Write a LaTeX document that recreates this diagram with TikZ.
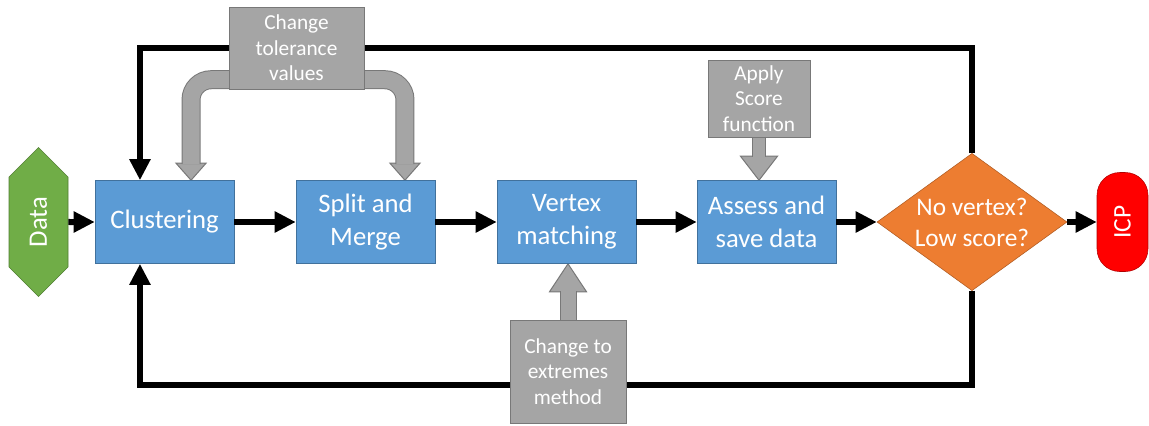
\documentclass[tikz,border=0pt]{standalone}
\usepackage{fontspec}
\setmainfont{Carlito}
\usetikzlibrary{shapes.geometric,shapes.symbols,arrows.meta,backgrounds}

\definecolor{procblue}{HTML}{5B9BD5}
\definecolor{procline}{HTML}{41719C}
\definecolor{datagreen}{HTML}{70AD47}
\definecolor{dataline}{HTML}{507E32}
\definecolor{decorange}{HTML}{ED7D31}
\definecolor{decline}{HTML}{AE5A21}
\definecolor{icpred}{HTML}{FF0000}
\definecolor{icpline}{HTML}{B00000}
\definecolor{remarkgray}{HTML}{A5A5A5}
\definecolor{remarkline}{HTML}{787878}

\tikzstyle{process}=[rectangle,draw=procline,fill=procblue,text=white,align=center,minimum width=104.25pt,minimum height=62.25pt,font=\fontsize{20}{24.75}\selectfont]
\tikzstyle{decision}=[diamond,draw=decline,fill=decorange,text=white,align=center,aspect=1.4,inner sep=0pt,minimum width=142.5pt,minimum height=103pt,font=\fontsize{19}{23.25}\selectfont]
\tikzstyle{terminal}=[rectangle,rounded corners=17pt,rotate=90,draw=icpline,fill=icpred,text=white,minimum width=74.25pt,minimum height=38.25pt,font=\fontsize{19}{22}\selectfont]
\tikzstyle{remark}=[rectangle,draw=remarkline,fill=remarkgray,text=white,align=center,inner sep=0pt,font=\fontsize{16}{19.25}\selectfont]
\tikzstyle{flowarrow}=[line width=4.5pt,-{Triangle[length=15.75pt,width=15pt]}]
\tikzstyle{shaft}=[draw=remarkline,line width=0.75pt,double=remarkgray]
\tikzstyle{ghead}=[draw=remarkline,fill=remarkgray,line width=0.75pt,line join=miter]

\begin{document}
\begin{tikzpicture}[x=0.75pt,y=-0.75pt]
    \useasboundingbox (0,0) rectangle (1149,425);

    \node[signal,signal to=east and west,rotate=90,draw=dataline,fill=datagreen,text=white,
        minimum width=111.75pt,minimum height=44.25pt,font=\fontsize{20}{24}\selectfont] (data) at (38.5,222) {Data};
    \foreach \name/\x/\txt in {clust/164.5/Clustering, split/365.5/{Split and\\Merge},
        match/566.5/{Vertex\\matching}, assess/766.5/{Assess and\\save data}} {
        \node[process] (\name) at (\x,222) {\txt};
    }
    \node[decision] (dec) at (972,222) {No vertex?\\Low score?};
    \node[terminal] (icp) at (1122.5,222) {ICP};

    \node[remark,minimum width=101.25pt,minimum height=61.5pt] (tol) at (296.5,48) {Change\\tolerance\\values};
    \node[remark,minimum width=76.5pt,minimum height=57.75pt] (score) at (759,98.5) {Apply\\Score\\function};
    \node[remark,minimum width=87pt,minimum height=77.25pt] (ext) at (568,371.5) {Change to\\extremes\\method};

    \foreach \a/\b in {data/clust,clust/split,split/match,match/assess,assess/dec,dec/icp} {
        \draw[flowarrow] (\a) -- (\b);
    }

    \begin{scope}[on background layer]
        % feedback loops
        \draw[flowarrow] (dec.north) -- ++(0,-105) -| ([xshift=-18.4pt]clust.north);
        \draw[flowarrow] (dec.south) -- ++(0,94) -| ([xshift=-18.4pt]clust.south);

        % tolerance split arrow
        \coordinate (tipA) at ([xshift=19.9pt]clust.north);
        \coordinate (tipB) at ([xshift=29.6pt]split.north);
        \filldraw[ghead] (tipA) -- ++(-15,-17) -- ++(30,0) -- cycle;
        \filldraw[ghead] (tipB) -- ++(-15,-17) -- ++(30,0) -- cycle;
        \draw[shaft,double distance=12.75pt,rounded corners=15pt]
            ([yshift=12pt]tipA) -- ++(0,-84.5) -| ([yshift=12pt]tipB);

        \coordinate (tipC) at (score.south |- assess.north);
        \filldraw[ghead] (tipC) -- ++(-18.5,-24) -- ++(37,0) -- cycle;
        \draw[shaft,double distance=9pt] (score.south) -- ([yshift=17.5pt]tipC);

        \coordinate (tipD) at (ext.north |- match.south);
        \filldraw[ghead] (tipD) -- ++(-18.5,28) -- ++(37,0) -- cycle;
        \draw[shaft,double distance=11.25pt] (ext.north) -- ([yshift=-20.5pt]tipD);
    \end{scope}
\end{tikzpicture}
\end{document}
